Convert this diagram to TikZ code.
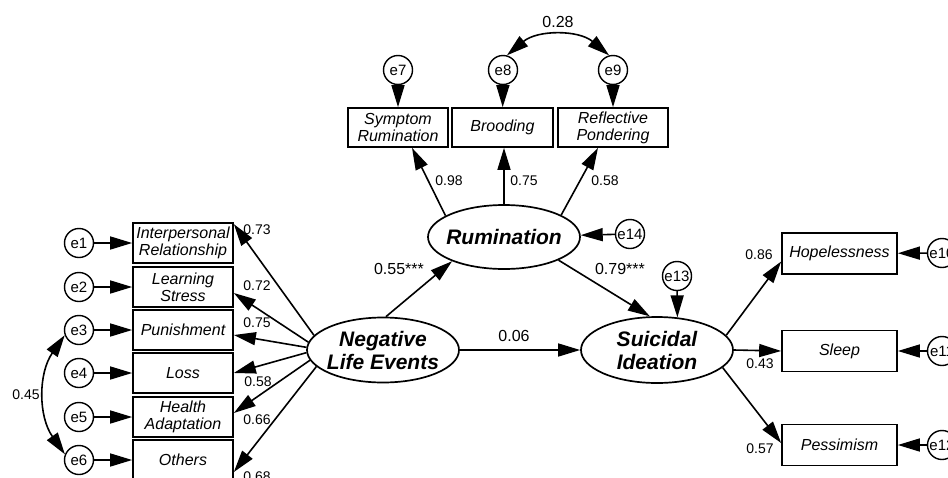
\documentclass[tikz,border=0pt]{standalone}
\usepackage{fontspec}
\setmainfont{Liberation Sans}
\usetikzlibrary{arrows.meta,shapes.geometric}
\begin{document}
\begin{tikzpicture}[x=1pt,y=1pt,
  obs/.style={draw, line width=1.7pt, minimum width=100pt, minimum height=40pt, inner sep=1pt, align=center, font=\fontsize{16}{17}\selectfont\itshape},
  lat/.style={draw, ellipse, line width=1.7pt, minimum width=152pt, minimum height=65pt, inner sep=0pt},
  lattxt/.style={align=center, inner sep=0pt, font=\fontsize{21}{23}\selectfont\bfseries\itshape},
  err/.style={draw, circle, line width=1.4pt, minimum size=29pt, inner sep=0pt, font=\fontsize{15}{15}\selectfont},
  arr/.style={line width=1.6pt, -{Triangle[length=22pt,width=13pt]}},
  cov/.style={line width=1.6pt, {Triangle[length=22pt,width=13pt]}-{Triangle[length=22pt,width=13pt]}},
  lbl/.style={font=\fontsize{14}{14}\selectfont, inner sep=0pt},
  biglbl/.style={font=\fontsize{16}{16}\selectfont, inner sep=0pt}]
\useasboundingbox (0,-477) rectangle (948,0);
\clip (0,-477) rectangle (948,0);

% left indicators
\node[obs] (b1) at (183,-243) {Interpersonal\\Relationship};
\node[obs] (b2) at (183,-287) {Learning\\Stress};
\node[obs] (b3) at (183,-330) {Punishment};
\node[obs] (b4) at (183,-373) {Loss};
\node[obs] (b5) at (183,-417) {Health\\Adaptation};
\node[obs] (b6) at (183,-460) {Others};
\node[err] (e1) at (79,-243) {e1};
\node[err] (e2) at (79,-287) {e2};
\node[err] (e3) at (79,-330) {e3};
\node[err] (e4) at (79,-373) {e4};
\node[err] (e5) at (79,-417) {e5};
\node[err] (e6) at (79,-460) {e6};

% top indicators
\node[obs, minimum height=39pt] (sr) at (398,-127.5) {Symptom\\Rumination};
\node[obs, minimum height=39pt, minimum width=101pt] (br) at (502.5,-127.5) {Brooding};
\node[obs, minimum height=39pt, minimum width=110pt] (rp) at (613,-127.5) {Reflective\\Pondering};
\node[err] (e7) at (398,-70) {e7};
\node[err] (e8) at (503,-70) {e8};
\node[err] (e9) at (613,-70) {e9};

% right indicators
\node[obs, minimum width=115pt, minimum height=41pt] (hop) at (839.5,-253.5) {Hopelessness};
\node[obs, minimum width=115pt, minimum height=41pt] (sl) at (839.5,-351) {Sleep};
\node[obs, minimum width=115pt, minimum height=41pt] (pe) at (839.5,-445) {Pessimism};
\node[err] (e10) at (942,-253) {e10};
\node[err] (e11) at (942,-351) {e11};
\node[err] (e12) at (942,-445) {e12};

% latent variables
\node[lat, label={[lattxt]center:Negative\\Life Events}] (nle) at (383,-350) {};
\node[lat, minimum height=64pt, label={[lattxt]center:Rumination}] (rum) at (504,-237) {};
\node[lat, minimum height=66pt, label={[lattxt]center:Suicidal\\Ideation}] (si) at (657,-350) {};
\node[err] (e14) at (630,-234) {e14};
\node[err] (e13) at (677,-276) {e13};

% error arrows
\draw[arr] (e1) -- (b1);
\draw[arr] (e2) -- (b2);
\draw[arr] (e3) -- (b3);
\draw[arr] (e4) -- (b4);
\draw[arr] (e5) -- (b5);
\draw[arr] (e6) -- (b6);
\draw[arr] (e7) -- (sr);
\draw[arr] (e8) -- (br);
\draw[arr] (e9) -- (rp);
\draw[arr] (e10) -- (hop);
\draw[arr] (e11) -- (sl);
\draw[arr] (e12) -- (pe);
\draw[arr] (e14) -- (rum);
\draw[arr] (e13) -- (si.58);

% covariances
\draw[cov] (e8.75) to[bend left=40] (e9.105);
\draw[cov] (e3.200) to[bend right=35] (e6.158);

% loadings
\draw[arr] (nle.168) -- ([yshift=-2pt]b1.north east);
\draw[arr] (nle.174) -- ([yshift=-6pt]b2.east);
\draw[arr] (nle.178) -- ([yshift=-5pt]b3.east);
\draw[arr] (nle.182) -- (b4.east);
\draw[arr] (nle.188) -- ([yshift=4pt]b5.east);
\draw[arr] (nle.194) -- ([yshift=-12pt]b6.east);

\draw[arr] (rum.160) -- ([xshift=14pt]sr.south);
\draw[arr] (rum.north) -- (rum.north |- br.south);
\draw[arr] (rum.21) -- ([xshift=-15pt]rp.south);

\draw[arr] (si.12) -- ([yshift=-8pt]hop.west);
\draw[arr] (si.east) -- (sl.west);
\draw[arr] (si.345) -- ([yshift=2pt]pe.west);

% structural paths
\draw[arr] (nle.85) -- (rum.205);
\draw[arr] (rum.337) -- (si.102);
\draw[arr] (nle.east) -- (si.west);

% labels
\node[lbl] (l1) at (257,-230) {0.73};
\node[lbl] (l2) at (257,-286) {0.72};
\node[lbl] (l3) at (257,-323) {0.75};
\node[lbl] (l4) at (258,-382) {0.58};
\node[lbl] (l5) at (257,-420) {0.66};
\node[lbl] (l6) at (257,-477) {0.68};
\node[lbl] (l45) at (26,-395) {0.45};
\node[lbl] (l98) at (449,-181) {0.98};
\node[lbl] (l75) at (524,-181) {0.75};
\node[lbl] (l58) at (605,-181) {0.58};
\node[lbl] (l86) at (759,-255) {0.86};
\node[lbl] (l43) at (760,-364) {0.43};
\node[lbl] (l57) at (760,-449) {0.57};
\node[biglbl] (l28) at (558,-22) {0.28};
\node[biglbl] (l55) at (399,-269) {0.55***};
\node[biglbl] (l79) at (620,-269) {0.79***};
\node[biglbl] (l06) at (514,-336) {0.06};
\end{tikzpicture}
\end{document}
